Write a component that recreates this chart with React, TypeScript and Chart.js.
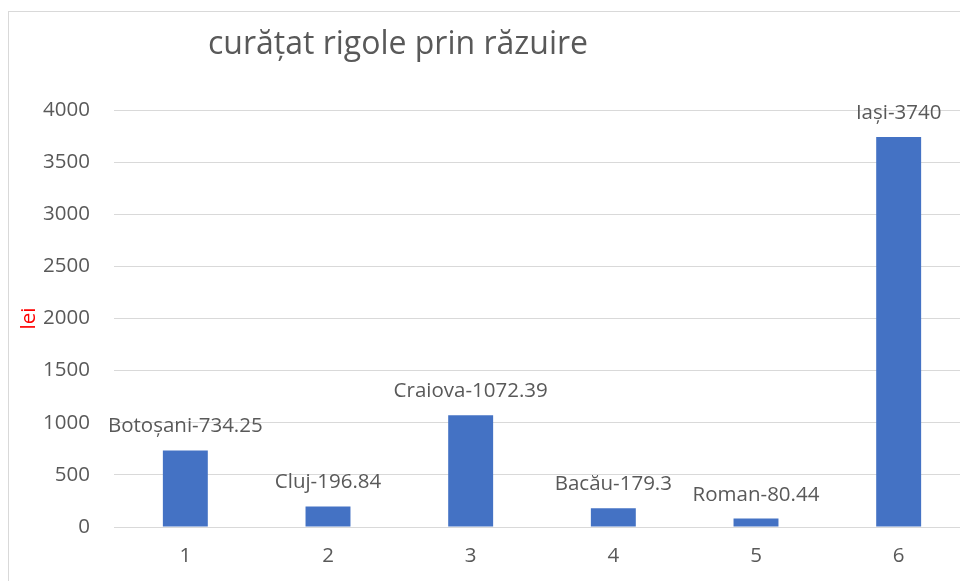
import React, { useEffect, useRef } from "react";
import { Chart, registerables } from "chart.js";

Chart.register(...registerables);

const categories = ["1", "2", "3", "4", "5", "6"];
const cities = ["Botoșani", "Cluj", "Craiova", "Bacău", "Roman", "Iași"];
const values = [734.25, 196.84, 1072.39, 179.3, 80.44, 3740];
const titleText = "curățat rigole prin răzuire";
const yTitle = "lei";

const FONT = "'Open Sans', 'Noto Sans', sans-serif";
const TEXT = "#595959";
const FS = 20.5;

const labelPlugin = {
  id: "barLabels",
  afterDatasetsDraw(chart: any) {
    const ctx = chart.ctx;
    const meta = chart.getDatasetMeta(0);
    ctx.save();
    ctx.font = `${FS}px ${FONT}`;
    ctx.fillStyle = TEXT;
    ctx.textAlign = "center";
    ctx.textBaseline = "alphabetic";
    meta.data.forEach((el: any, i: number) => {
      ctx.fillText(`${cities[i]}-${values[i]}`, el.x, el.y - 18);
    });
    ctx.restore();
  },
};

const titlePlugin = {
  id: "customTitle",
  afterDraw(chart: any) {
    const ctx = chart.ctx;
    ctx.save();
    ctx.font = `32px ${FONT}`;
    ctx.fillStyle = TEXT;
    ctx.textAlign = "center";
    ctx.textBaseline = "alphabetic";
    ctx.fillText(titleText, 389, 42);
    ctx.restore();
  },
};

export default function App() {
  const ref = useRef<HTMLCanvasElement>(null);
  useEffect(() => {
    if (!ref.current) return;
    const chart = new Chart(ref.current, {
      type: "bar",
      data: {
        labels: categories,
        datasets: [
          {
            data: values,
            backgroundColor: "#4472C4",
            borderWidth: 0,
            barPercentage: 0.315,
            categoryPercentage: 1,
          },
        ],
      },
      options: {
        animation: false,
        responsive: false,
        maintainAspectRatio: false,
        layout: { padding: { top: 98, right: 39, bottom: 45, left: 0 } },
        plugins: {
          legend: { display: false },
          title: { display: false },
          tooltip: { enabled: false },
        },
        scales: {
          x: {
            grid: { display: false, drawTicks: false },
            border: { display: true, color: "#d9d9d9", width: 1 },
            ticks: {
              color: TEXT,
              font: { family: FONT, size: FS },
              padding: 17,
            },
            afterFit: (s: any) => {
              s.height = 60;
            },
          },
          y: {
            min: 0,
            max: 4000,
            ticks: {
              stepSize: 500,
              color: TEXT,
              font: { family: FONT, size: FS },
              padding: 24,
              callback: (v: any) => String(v),
            },
            grid: { color: "#d9d9d9", drawTicks: false, lineWidth: 1 },
            border: { display: false },
            title: {
              display: true,
              text: yTitle,
              color: "#ff0000",
              font: { family: FONT, size: FS },
              padding: { top: 8, bottom: 0 },
            },
            afterFit: (s: any) => {
              s.width = 105;
            },
          },
        },
      },
      plugins: [labelPlugin, titlePlugin],
    });
    return () => chart.destroy();
  }, []);

  return (
    <div
      style={{
        position: "fixed",
        left: 0,
        top: 0,
        width: 960,
        height: 581,
        overflow: "hidden",
        background: "#fff",
      }}
    >
      <div
        style={{
          position: "absolute",
          left: 8,
          top: 11,
          width: 1000,
          height: 620,
          border: "1px solid #d9d9d9",
          boxSizing: "content-box",
        }}
      >
        <canvas ref={ref} width={1000} height={620} style={{ display: "block" }} />
      </div>
    </div>
  );
}
